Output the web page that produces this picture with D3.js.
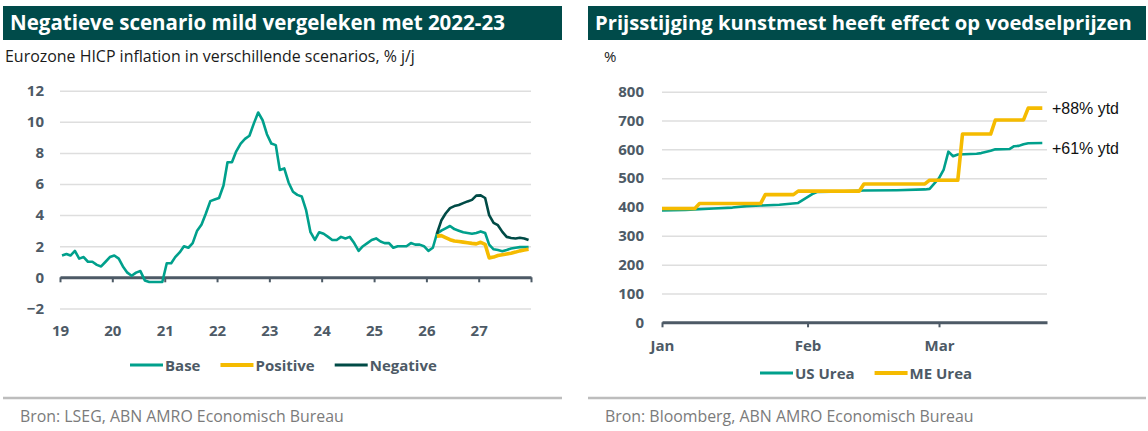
<!DOCTYPE html>
<html>
<head>
<meta charset="utf-8">
<script src="https://cdn.jsdelivr.net/npm/d3@7"></script>
<style>
	body { margin: 0; background: #fff; }
	svg text { font-family: "Open Sans", sans-serif; }
</style>
</head>
<body>
<svg id="chart" width="1148" height="431"></svg>
<script>
// Left chart: eurozone HICP, % y/y, monthly from Jan 2019
var hicpStart = '2019-01-15';
var baseValues = [
	1.4, 1.5, 1.4, 1.7, 1.2, 1.3, 1.0, 1.0, 0.8, 0.7, 1.0, 1.3,
	1.4, 1.2, 0.7, 0.3, 0.1, 0.3, 0.4, -0.2, -0.3, -0.3, -0.3, -0.3,
	0.9, 0.9, 1.3, 1.6, 2.0, 1.9, 2.2, 3.0, 3.4, 4.1, 4.9, 5.0,
	5.1, 5.9, 7.4, 7.4, 8.1, 8.6, 8.9, 9.1, 9.9, 10.6, 10.1, 9.2,
	8.6, 8.5, 6.9, 7.0, 6.1, 5.5, 5.3, 5.2, 4.3, 2.9, 2.4, 2.9,
	2.8, 2.6, 2.4, 2.4, 2.6, 2.5, 2.6, 2.2, 1.7, 2.0, 2.2, 2.4,
	2.5, 2.3, 2.2, 2.2, 1.9, 2.0, 2.0, 2.0, 2.2, 2.1, 2.1, 2.0,
	1.7, 1.9, 2.8, 3.0, 3.15, 3.3, 3.1, 3.0, 2.9, 2.85, 2.8, 2.85,
	2.95, 2.85, 2.1, 1.8, 1.75, 1.68, 1.76, 1.85, 1.9, 1.94, 1.94, 1.94
];
// Scenarios start in Mar 2026
var scenarioStart = '2026-03-15';
var positiveValues = [2.65, 2.68, 2.55, 2.42, 2.33, 2.3, 2.26, 2.22, 2.18, 2.15, 2.25, 2.12,
	1.25, 1.3, 1.4, 1.45, 1.5, 1.55, 1.62, 1.7, 1.75, 1.8];
var negativeValues = [2.8, 3.65, 4.1, 4.45, 4.58, 4.65, 4.77, 4.88, 4.98, 5.25, 5.27, 5.1,
	4.0, 3.5, 3.35, 2.92, 2.6, 2.53, 2.5, 2.54, 2.5, 2.4];
var yearTicks = ['2019', '2020', '2021', '2022', '2023', '2024', '2025', '2026', '2027', '2028'];
var yearLabels = ['19', '20', '21', '22', '23', '24', '25', '26', '27', ''];
var inflationTicks = [-2, 0, 2, 4, 6, 8, 10, 12];

// Right chart: fertiliser prices (index, %)
var usUreaDates = ['2026-01-01', '2026-01-06', '2026-01-12', '2026-01-16', '2026-01-19', '2026-01-22',
	'2026-01-26', '2026-01-30', '2026-02-02', '2026-02-03', '2026-02-06', '2026-02-13', '2026-02-20',
	'2026-02-26', '2026-02-27', '2026-03-01', '2026-03-02', '2026-03-03', '2026-03-04', '2026-03-05',
	'2026-03-09', '2026-03-10', '2026-03-12', '2026-03-13', '2026-03-16', '2026-03-17', '2026-03-18',
	'2026-03-19', '2026-03-20', '2026-03-23'];
var usUreaValues = [388, 390, 395, 398, 403, 405, 408, 414, 445, 452, 453, 457, 458,
	461, 463, 500, 530, 592, 576, 582, 585, 587, 595, 600, 601, 611, 612, 618, 621, 622];
var meUreaDates = ['2026-01-01', '2026-01-08', '2026-01-09', '2026-01-22', '2026-01-23', '2026-01-29',
	'2026-01-30', '2026-02-12', '2026-02-13', '2026-02-26', '2026-02-27', '2026-03-05', '2026-03-06',
	'2026-03-12', '2026-03-13', '2026-03-19', '2026-03-20', '2026-03-23'];
var meUreaValues = [395, 395, 412, 412, 443, 443, 455, 455, 480, 480, 493, 493, 653,
	653, 702, 702, 743, 743];
var monthTicks = ['2026-01-01', '2026-02-01', '2026-03-01'];
var monthLabels = ['Jan', 'Feb', 'Mar'];
var priceTicks = [0, 100, 200, 300, 400, 500, 600, 700, 800];
var annotations = ['+88% ytd', '+61% ytd'];

var teal = '#00a08c', yellow = '#f5bb00', dark = '#004b46', ink = '#4d5a66';
var parse = d3.timeParse('%Y-%m-%d');
var svg = d3.select('#chart');

/** Scales the font size so the text gets the given width */
function fit(text, width) {
	var size = parseFloat(text.attr('font-size'));
	text.attr('font-size', size * width / text.node().getComputedTextLength());
}

/** Title bar, subtitle, divider and source of one panel */
function frame(x0, x1, title, titleWidth, subtitle, subX, subWidth, source, sourceWidth) {
	svg.append('rect').attr('x', x0).attr('y', 6).attr('width', x1 - x0).attr('height', 34)
		.attr('fill', '#004b4a');
	fit(svg.append('text').attr('x', x0 + 7).attr('y', 30).attr('fill', '#fff')
		.attr('font-weight', 700).attr('font-size', 20).text(title), titleWidth);
	var sub = svg.append('text').attr('x', subX).attr('y', 62).attr('fill', '#1a1a1a')
		.attr('font-size', 15).text(subtitle);
	if (subWidth) fit(sub, subWidth);
	svg.append('line').attr('x1', x0).attr('x2', x1).attr('y1', 398).attr('y2', 398)
		.attr('stroke', '#bdbdbd').attr('stroke-width', 2.5);
	fit(svg.append('text').attr('x', x0 + 17).attr('y', 422).attr('fill', '#7b7b7b')
		.attr('font-size', 14.5).text(source), sourceWidth);
}

/** Horizontal grid with value labels */
function grid(y, ticks, x0, x1, pad) {
	var g = svg.append('g').attr('transform', 'translate(' + x0 + ',0)')
		.call(d3.axisLeft(y).tickValues(ticks).tickSize(-(x1 - x0)).tickPadding(pad));
	g.select('.domain').remove();
	g.selectAll('line').attr('stroke', '#dedede').attr('stroke-width', 1.5);
	g.selectAll('text').attr('fill', ink).attr('font-size', 15).attr('font-weight', 700)
		.style('font-family', '"Open Sans", sans-serif');
}

/** Zero line with tick marks and labels further down */
function baseline(x, yZero, ticks, labels, labelY) {
	var g = svg.append('g').attr('transform', 'translate(0,' + yZero + ')')
		.call(d3.axisBottom(x).tickValues(ticks).tickSize(5).tickSizeOuter(0)
			.tickPadding(labelY - yZero - 14).tickFormat((d, i) => labels[i]));
	g.select('.domain').attr('stroke', ink).attr('stroke-width', 3);
	g.selectAll('line').attr('stroke', ink).attr('stroke-width', 2);
	g.selectAll('text').attr('fill', ink).attr('font-size', 15).attr('font-weight', 700)
		.style('font-family', '"Open Sans", sans-serif');
}

/** Legend row: coloured line followed by bold label */
function legend(items, x, y) {
	items.forEach(it => {
		svg.append('line').attr('x1', x).attr('x2', x + 33).attr('y1', y).attr('y2', y)
			.attr('stroke', it.color).attr('stroke-width', it.width);
		var t = svg.append('text').attr('x', x + 35).attr('y', y + 5.5).attr('fill', ink)
			.attr('font-size', 15).attr('font-weight', 700).text(it.name);
		x += 35 + t.node().getComputedTextLength() + 20;
	});
}

function path(data, x, y, color, width) {
	svg.append('path').datum(data).attr('fill', 'none').attr('stroke', color)
		.attr('stroke-width', width).attr('stroke-linejoin', 'round')
		.attr('d', d3.line().x(d => x(d.date)).y(d => y(d.value)));
}

// ---- Left panel ----
frame(3, 562, 'Negatieve scenario mild vergeleken met 2022-23', 495,
	'Eurozone HICP inflation in verschillende scenarios, % j/j', 5, 410,
	'Bron: LSEG, ABN AMRO Economisch Bureau', 324);

var x1 = d3.scaleTime().domain([new Date(2019, 0, 1), new Date(2028, 0, 1)]).range([60, 531]);
var y1 = d3.scaleLinear().domain([-2, 12]).range([308.4, 90.7]);
grid(y1, inflationTicks, 60, 531, 16);
baseline(x1, y1(0), yearTicks.map(d => new Date(+d, 0, 1)), yearLabels, 334);

function monthly(start, values) {
	var s = parse(start);
	return values.map((v, i) => ({ date: d3.timeMonth.offset(s, i), value: v }));
}
path(monthly(hicpStart, baseValues), x1, y1, teal, 2.6);
path(monthly(scenarioStart, positiveValues), x1, y1, yellow, 3.6);
path(monthly(scenarioStart, negativeValues), x1, y1, dark, 2.6);

legend([
	{ name: 'Base', color: teal, width: 3 },
	{ name: 'Positive', color: yellow, width: 4 },
	{ name: 'Negative', color: dark, width: 3 }
], 130, 365);

// ---- Right panel ----
frame(588, 1146, 'Prijsstijging kunstmest heeft effect op voedselprijzen', 537,
	'%', 604, 0, 'Bron: Bloomberg, ABN AMRO Economisch Bureau', 369);

var x2 = d3.scaleTime().domain([parse('2026-01-01'), parse('2026-03-24')]).range([662, 1047]);
var y2 = d3.scaleLinear().domain([0, 800]).range([322.3, 91.7]);
grid(y2, priceTicks, 662, 1047, 18);
baseline(x2, y2(0), monthTicks.map(parse), monthLabels, 349);

path(usUreaDates.map((d, i) => ({ date: parse(d), value: usUreaValues[i] })), x2, y2, teal, 2.6);
path(meUreaDates.map((d, i) => ({ date: parse(d), value: meUreaValues[i] })), x2, y2, yellow, 3.6);

// End-of-line annotations
[meUreaValues[meUreaValues.length - 1], usUreaValues[usUreaValues.length - 1]].forEach((v, i) => {
	fit(svg.append('text').attr('x', 1052).attr('y', (i ? 148 : 108) + 5.5).attr('fill', '#111')
		.attr('font-size', 16).style('font-family', '"Liberation Sans", sans-serif')
		.text(annotations[i]), 67);
});

legend([
	{ name: 'US Urea', color: teal, width: 3 },
	{ name: 'ME Urea', color: yellow, width: 4 }
], 760, 373);
</script>
</body>
</html>
